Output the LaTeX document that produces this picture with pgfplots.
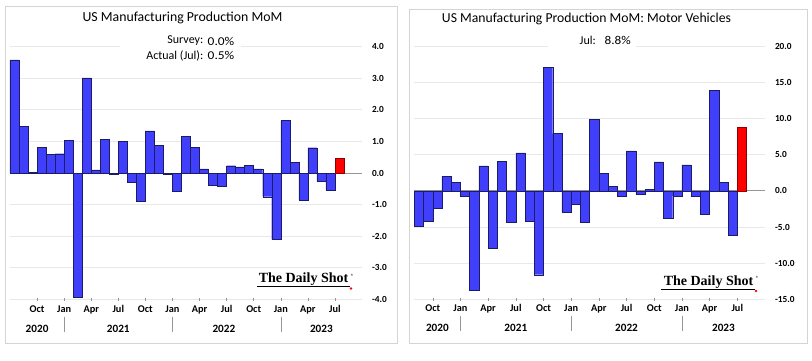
\documentclass[border=0pt]{standalone}
\usepackage{pgfplots}
\pgfplotsset{compat=1.18}
\usepackage{fontspec}
\setmainfont{Carlito}
\newfontfamily\logofont{Liberation Serif}
\definecolor{barblue}{RGB}{64,64,252}
\definecolor{baredge}{RGB}{28,28,100}
\definecolor{barred}{RGB}{255,0,0}
\definecolor{rededge}{RGB}{140,0,0}
\definecolor{gridc}{RGB}{232,232,232}
\definecolor{framec}{RGB}{212,212,212}
\definecolor{zeroc}{RGB}{150,150,150}
\tikzset{yearlab/.style={anchor=base, font=\bfseries\fontsize{11.2}{12}\selectfont}}
\pgfplotsset{dsaxis/.style={
  scale only axis, clip=false,
  axis line style={draw=none},
  ymajorgrids, grid style={gridc, line width=0.8pt},
  xtick pos=bottom, ytick pos=right, yticklabel pos=right,
  major tick length=3pt, tick align=center,
  xtick style={draw=zeroc, line width=0.5pt},
  ytick style={draw=none},
  xticklabel style={font=\bfseries\fontsize{10.3}{11}\selectfont, anchor=base, yshift=-11pt},
  yticklabel style={font=\bfseries\fontsize{9.3}{11}\selectfont, anchor=west, xshift=5pt},
  xticklabels={Oct,Jan,Apr,Jul,Oct,Jan,Apr,Jul,Oct,Jan,Apr,Jul},
}}
\begin{document}
\begin{tikzpicture}[x=1pt,y=1pt]
\useasboundingbox (0pt,0pt) rectangle (812pt,360pt);
\fill[white] (0,0) rectangle (812,360);
\draw[framec, line width=0.8pt] (5,17) rectangle (397,354);
\draw[framec, line width=0.8pt] (409,17) rectangle (807,351);

% ---------------- left panel ----------------
\begin{axis}[dsaxis,
  at={(10pt,60.5pt)}, anchor=south west, width=352pt, height=253pt,
  xmin=-0.5, xmax=38.5, ymin=-4, ymax=4,
  ytick={-4,-3,-2,-1,0,1,2,3,4},
  yticklabels={-4.0,-3.0,-2.0,-1.0,0.0,1.0,2.0,3.0,4.0},
  xtick={2.5,5.5,8.5,11.5,14.5,17.5,20.5,23.5,26.5,29.5,32.5,35.5},
]
\draw[zeroc, line width=0.8pt] (axis cs:-0.5,0) -- (axis cs:38.5,0);
\addplot[ybar, bar width=1, bar shift=0pt, fill=barblue, draw=baredge, line width=0.4pt]
 coordinates {(0,3.58) (1,1.47) (2,0.02) (3,0.81) (4,0.58) (5,0.61) (6,1.03) (7,-3.93)
 (8,3.01) (9,0.10) (10,1.06) (11,-0.05) (12,1.01) (13,-0.28) (14,-0.90) (15,1.33)
 (16,0.87) (17,-0.04) (18,-0.58) (19,1.17) (20,0.81) (21,0.13) (22,-0.38) (23,-0.42)
 (24,0.23) (25,0.19) (26,0.24) (27,0.13) (28,-0.75) (29,-2.10) (30,1.66) (31,0.34)
 (32,-0.85) (33,0.80) (34,-0.27) (35,-0.53)};
\addplot[ybar, bar width=1, bar shift=0pt, fill=barred, draw=rededge, line width=0.4pt]
 coordinates {(36,0.46)};
\pgfplotsinvokeforeach{5.5,17.5,29.5}{
  \draw[zeroc, line width=0.5pt] ([yshift=-17pt]axis cs:#1,-4) -- ([yshift=-32pt]axis cs:#1,-4);
}
\node[yearlab] at ([yshift=-32.5pt]axis cs:2.5,-4) {2020};
\node[yearlab] at ([yshift=-32.5pt]axis cs:11.5,-4) {2021};
\node[yearlab] at ([yshift=-32.5pt]axis cs:23.2,-4) {2022};
\node[yearlab] at ([yshift=-32.5pt]axis cs:34,-4) {2023};
\end{axis}
\fill[white] (120,296) rectangle (241,326);
\node[font=\fontsize{13.8}{15}\selectfont] at (182.5,342) {US Manufacturing Production MoM};
\node[anchor=east, inner sep=0, font=\fontsize{12}{13}\selectfont] at (203.5,319) {Survey:};
\node[anchor=west, inner sep=0, font=\fontsize{12}{13}\selectfont] at (207.5,319) {\scalebox{1.12}[1]{0.0\%}};
\node[anchor=east, inner sep=0, font=\fontsize{12}{13}\selectfont] at (203.5,304.5) {Actual (Jul):};
\node[anchor=west, inner sep=0, font=\fontsize{12}{13}\selectfont] at (207.5,304.5) {\scalebox{1.12}[1]{0.5\%}};
\node[inner sep=0, font=\logofont\bfseries\fontsize{14}{14}\selectfont] at (303.5,80.5) {The Daily Shot};
\draw[black, line width=0.6pt] (257,73.5) -- (350,73.5);
\fill[red] (351,71.5) circle (1.3);
\node[inner sep=0, font=\fontsize{6}{6}\selectfont] at (352.5,84) {®};

% ---------------- right panel ----------------
\begin{axis}[dsaxis,
  at={(414.3pt,60.7pt)}, anchor=south west, width=350.7pt, height=253pt,
  xmin=-0.5, xmax=37.5, ymin=-15, ymax=20,
  ytick={-15,-10,-5,0,5,10,15,20},
  yticklabels={-15.0,-10.0,-5.0,0.0,5.0,10.0,15.0,20.0},
  xtick={1.5,4.5,7.5,10.5,13.5,16.5,19.5,22.5,25.5,28.5,31.5,34.5},
]
\draw[zeroc, line width=0.8pt] (axis cs:-0.5,0) -- (axis cs:37.5,0);
\addplot[ybar, bar width=1, bar shift=0pt, fill=barblue, draw=baredge, line width=0.4pt]
 coordinates {(0,-4.84) (1,-4.24) (2,-2.40) (3,2.00) (4,1.15) (5,-0.70) (6,-13.80) (7,3.46)
 (8,-7.88) (9,4.10) (10,-4.38) (11,5.25) (12,-4.15) (13,-11.60) (14,17.05) (15,7.93)
 (16,-2.95) (17,-1.84) (18,-4.33) (19,9.90) (20,2.45) (21,0.60) (22,-0.78) (23,5.53)
 (24,-0.46) (25,0.20) (26,4.00) (27,-3.78) (28,-0.70) (29,3.60) (30,-0.78) (31,-3.18)
 (32,13.90) (33,1.15) (34,-6.17)};
\addplot[ybar, bar width=1, bar shift=0pt, fill=barred, draw=rededge, line width=0.4pt]
 coordinates {(35,8.85)};
\pgfplotsinvokeforeach{4.5,16.5,28.5}{
  \draw[zeroc, line width=0.5pt] ([yshift=-17pt]axis cs:#1,-15) -- ([yshift=-32pt]axis cs:#1,-15);
}
\node[yearlab] at ([yshift=-32.5pt]axis cs:2,-15) {2020};
\node[yearlab] at ([yshift=-32.5pt]axis cs:10.5,-15) {2021};
\node[yearlab] at ([yshift=-32.5pt]axis cs:22.5,-15) {2022};
\node[yearlab] at ([yshift=-32.5pt]axis cs:33,-15) {2023};
\end{axis}
\fill[white] (548,308) rectangle (636,330);
\node[font=\fontsize{13.7}{15}\selectfont] at (586.5,341.3) {US Manufacturing Production MoM: Motor Vehicles};
\node[anchor=east, inner sep=0, font=\fontsize{12}{13}\selectfont] at (596,319.3) {Jul:};
\node[anchor=west, inner sep=0, font=\fontsize{12}{13}\selectfont] at (604.5,319.3) {\scalebox{1.1}[1]{8.8\%}};
\node[inner sep=0, font=\logofont\bfseries\fontsize{14}{14}\selectfont] at (708.5,78) {The Daily Shot};
\draw[black, line width=0.6pt] (661,71) -- (755,71);
\fill[red] (756,69) circle (1.3);
\node[inner sep=0, font=\fontsize{6}{6}\selectfont] at (757.5,81.5) {®};
\end{tikzpicture}
\end{document}
